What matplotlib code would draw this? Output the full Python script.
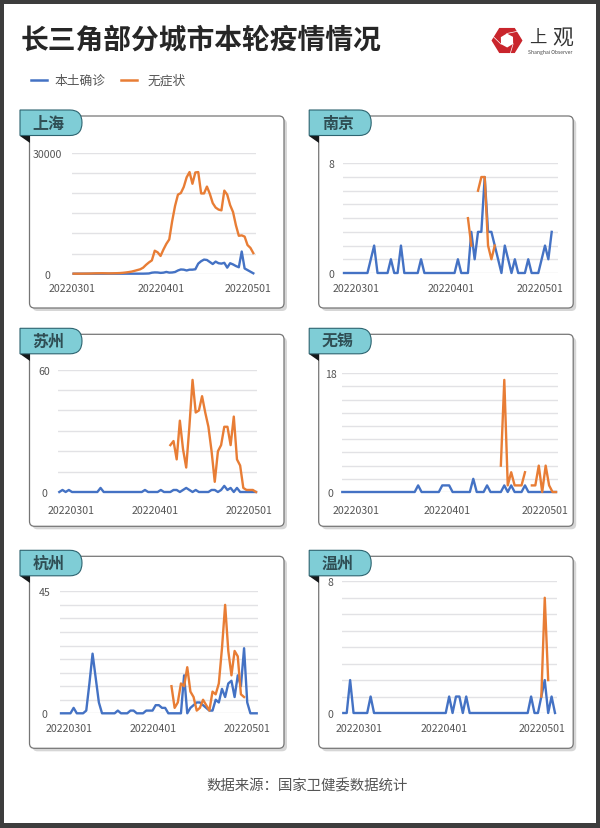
import matplotlib
matplotlib.use("Agg")
import matplotlib.pyplot as plt
import numpy as np
from matplotlib.patches import FancyBboxPatch, PathPatch, Polygon, Rectangle
from matplotlib.path import Path

plt.rcParams["font.family"] = ["Noto Sans CJK SC", "DejaVu Sans"]

BLUE = "#4472c4"
ORANGE = "#e87d35"
GRID = "#e2e2e5"
TEXT = "#555555"
N = None

date_labels = ["20220301", "20220401", "20220501"]

shanghai_local = [
    0, 0, 0, 0, 0, 0, 0, 0, 0, 0,
    0, 0, 0, 0, 0, 0, 0, 0, 5, 5,
    5, 5, 5, 10, 10, 30, 60, 250, 320, 300,
    200, 260, 440, 270, 300, 420, 800, 1050, 1000, 800,
    1000, 1000, 1100, 2500, 3100, 3500, 3400, 2900, 2400, 3000,
    2600, 2500, 2700, 1500, 2600, 2300, 1900, 1600, 5500, 1300,
    900, 500, 100,
]
shanghai_asym = [
    2, 3, 5, 10, 20, 30, 50, 80, 100, 110,
    120, 100, 80, 90, 110, 130, 160, 220, 300, 400,
    520, 700, 900, 1100, 1500, 2200, 2800, 3300, 5700, 5300,
    4400, 6000, 7400, 8500, 13000, 16800, 19600, 20000, 21500, 23900,
    25200, 22300, 25100, 25200, 19900, 19900, 21600, 19800, 17500, 16400,
    15900, 15700, 20600, 19600, 17000, 15300, 12000, 9400, 9500, 9200,
    7100, 6400, 5100,
]
nanjing_local = [
    0, 0, 0, 0, 0, 0, 0, 0, 1, 2,
    0, 0, 0, 0, 1, 0, 0, 2, 0, 0,
    0, 0, 0, 1, 0, 0, 0, 0, 0, 0,
    0, 0, 0, 0, 1, 0, 0, 0, 3, 1,
    3, 3, 7, 3, 3, 2, 1, 0, 2, 1,
    0, 1, 0, 0, 0, 1, 0, 0, 0, 1,
    2, 1, 3,
]
nanjing_asym = [
    N, N, N, N, N, N, N, N, N, N,
    N, N, N, N, N, N, N, N, N, N,
    N, N, N, N, N, N, N, N, N, N,
    N, N, N, N, N, N, N, 4, 2, N,
    6, 7, 7, 2, 1, 2, N, N, N, N,
    N, N, N, N, N, N, N, N, N, N,
    N, N, N,
]
suzhou_local = [
    0, 1, 0, 1, 0, 0, 0, 0, 0, 0,
    0, 0, 0, 2, 0, 0, 0, 0, 0, 0,
    0, 0, 0, 0, 0, 0, 0, 1, 0, 0,
    0, 0, 1, 0, 0, 0, 1, 1, 0, 1,
    2, 1, 0, 1, 0, 0, 0, 0, 1, 1,
    0, 1, 3, 1, 2, 0, 2, 0, 0, 0,
    0, 0, 0,
]
suzhou_asym = [
    N, N, N, N, N, N, N, N, N, N,
    N, N, N, N, N, N, N, N, N, N,
    N, N, N, N, N, N, N, N, N, N,
    N, N, N, N, N, 23, 25, 16, 35, 21,
    12, 32, 55, 39, 40, 47, 39, 32, 20, 5,
    20, 23, 32, 32, 23, 37, 16, 13, 2, 1,
    1, 1, 0,
]
wuxi_local = [
    0, 0, 0, 0, 0, 0, 0, 0, 0, 0,
    0, 0, 0, 0, 0, 0, 0, 0, 0, 0,
    0, 0, 1, 0, 0, 0, 0, 0, 0, 1,
    1, 1, 0, 0, 0, 0, 0, 0, 2, 0,
    0, 0, 1, 0, 0, 0, 0, 1, 0, 1,
    0, 0, 0, 1, 0, 0, 0, 0, 0, 0,
    0, 0, 0,
]
wuxi_asym = [
    N, N, N, N, N, N, N, N, N, N,
    N, N, N, N, N, N, N, N, N, N,
    N, N, N, N, N, N, N, N, N, N,
    N, N, N, N, N, N, N, N, N, N,
    N, N, N, N, N, N, 4, 17, 1, 3,
    1, 1, 1, 3, N, 1, 1, 4, 0, 4,
    1, 0, 0,
]
hangzhou_local = [
    0, 0, 0, 0, 2, 0, 0, 0, 1, 11,
    22, 13, 4, 0, 0, 0, 0, 0, 1, 0,
    0, 0, 1, 1, 0, 0, 0, 1, 1, 1,
    3, 3, 2, 2, 0, 0, 0, 0, 0, 14,
    0, 2, 3, 4, 4, 3, 2, 1, 1, 5,
    4, 9, 6, 11, 12, 6, 14, 10, 24, 4,
    0, 0, 0,
]
hangzhou_asym = [
    N, N, N, N, N, N, N, N, N, N,
    N, N, N, N, N, N, N, N, N, N,
    N, N, N, N, N, N, N, N, N, N,
    N, N, N, N, N, 10, 2, 4, 11, 10,
    17, 8, 6, 1, 2, 5, 3, 1, 8, 7,
    11, 24, 40, 23, 14, 23, 21, 7, 6, N,
    N, N, N,
]
wenzhou_local = [
    0, 0, 2, 0, 0, 0, 0, 0, 1, 0,
    0, 0, 0, 0, 0, 0, 0, 0, 0, 0,
    0, 0, 0, 0, 0, 0, 0, 0, 0, 0,
    0, 1, 0, 1, 1, 0, 1, 0, 0, 0,
    0, 0, 0, 0, 0, 0, 0, 0, 0, 0,
    0, 0, 0, 0, 0, 1, 0, 0, 1, 2,
    0, 1, 0,
]
wenzhou_asym = [
    N, N, N, N, N, N, N, N, N, N,
    N, N, N, N, N, N, N, N, N, N,
    N, N, N, N, N, N, N, N, N, N,
    N, N, N, N, N, N, N, N, N, N,
    N, N, N, N, N, N, N, N, N, N,
    N, N, N, N, N, N, N, N, 1, 7,
    2, N, N,
]


def px_axes(fig, x0, x1, top, bottom):
    return fig.add_axes([x0 / 600, 1 - bottom / 829, (x1 - x0) / 600, (bottom - top) / 829])


def draw_card(bg, left, top, name):
    # card, shadow and the little tag in the corner
    w, h = 254.5, 192
    bg.add_patch(FancyBboxPatch((left + 3, top + 3), w, h, boxstyle="round,pad=0,rounding_size=5",
                                fc="#d6d6d6", ec="none"))
    bg.add_patch(FancyBboxPatch((left, top), w, h, boxstyle="round,pad=0,rounding_size=5",
                                fc="white", ec="#767676", lw=0.9))
    tx, ty = left - 9.5, top - 6
    bg.add_patch(Polygon([(tx, ty + 25.5), (tx + 9.5, ty + 25.5), (tx + 9.5, ty + 33)], fc="#15181a", ec="none"))
    verts = [(tx, ty), (tx + 50, ty), (tx + 62, ty), (tx + 62, ty + 12.7),
             (tx + 62, ty + 25.5), (tx + 50, ty + 25.5), (tx, ty + 25.5), (tx, ty)]
    codes = [Path.MOVETO, Path.LINETO, Path.CURVE3, Path.CURVE3, Path.CURVE3, Path.CURVE3, Path.LINETO, Path.CLOSEPOLY]
    bg.add_patch(PathPatch(Path(verts, codes), fc="#7fcdd6", ec="#2d6470", lw=0.8))
    bg.text(tx + 28.5, ty + 12.8, name, ha="center", va="center", fontsize=11.5, fontweight="bold", color="#2f4e54")


def draw_chart(fig, panel):
    ax = px_axes(fig, panel["grid"][0], panel["grid"][1], panel["top"], panel["base"])
    ax.patch.set_alpha(0)
    p0, p1 = panel["points"]
    scale = (p1 - p0) / 62
    ax.set_xlim((panel["grid"][0] - p0) / scale, (panel["grid"][1] - p0) / scale)
    ax.set_ylim(0, panel["ymax"])
    days = np.arange(63)
    ax.plot(days, np.array(panel["local"], dtype=float), color=BLUE, lw=1.7, clip_on=False, zorder=3)
    ax.plot(days, np.array(panel["asym"], dtype=float), color=ORANGE, lw=1.7, clip_on=False, zorder=4)

    yticks = np.linspace(0, panel["ymax"], panel["steps"] + 1)
    ax.set_yticks(yticks)
    ax.set_yticklabels([str(panel["ymin_label"])] + [""] * (panel["steps"] - 1) + [str(panel["ymax"])])
    ax.grid(axis="y", color=GRID, lw=1.0)
    ax.set_axisbelow(True)
    for s in ax.spines.values():
        s.set_visible(False)
    ax.set_xticks([(x - p0) / scale for x in panel["xlabels"]])
    ax.set_xticklabels(date_labels)
    ax.tick_params(axis="x", length=0, pad=panel["xpad"], labelsize=7.6, labelcolor=TEXT)
    ax.tick_params(axis="y", length=0, pad=(panel["grid"][0] - panel["ycenter"]) * 0.72,
                   labelsize=7.6, labelcolor=TEXT)
    for lab in ax.get_yticklabels():
        lab.set_ha("center")


panels = [
    dict(name="上海", card=(29.5, 117), grid=(72.3, 255.7), points=(72.3, 253.3), top=153.7, base=274.7,
         ymax=30000, ymin_label=0, steps=6, ycenter=47.5, xlabels=(71, 160.5, 247.7), xpad=7,
         local=shanghai_local, asym=shanghai_asym),
    dict(name="南京", card=(318.7, 117), grid=(343.3, 558.3), points=(344, 551.7), top=164.3, base=274,
         ymax=8, ymin_label=0, steps=8, ycenter=331, xlabels=(356, 451, 540), xpad=7,
         local=nanjing_local, asym=nanjing_asym),
    dict(name="苏州", card=(29.5, 335.3), grid=(58.3, 257.3), points=(59.3, 256), top=370.7, base=493,
         ymax=60, ymin_label=0, steps=6, ycenter=44.3, xlabels=(71, 155.3, 249), xpad=9.5,
         local=suzhou_local, asym=suzhou_asym),
    dict(name="无锡", card=(318.7, 335.3), grid=(341.7, 558.3), points=(342.3, 556), top=374.3, base=493,
         ymax=18, ymin_label=0, steps=9, ycenter=330.7, xlabels=(355.7, 447.3, 545), xpad=9.5,
         local=wuxi_local, asym=wuxi_asym),
    dict(name="杭州", card=(29.5, 557.3), grid=(60, 258.3), points=(61, 256.7), top=592.3, base=714.3,
         ymax=45, ymin_label=0, steps=9, ycenter=44.3, xlabels=(69, 153.3, 247), xpad=7,
         local=hangzhou_local, asym=hangzhou_asym),
    dict(name="温州", card=(318.7, 557.3), grid=(341.7, 556.7), points=(343.3, 555), top=582.3, base=714,
         ymax=8, ymin_label=0, steps=8, ycenter=330.7, xlabels=(359.3, 444, 542), xpad=7,
         local=wenzhou_local, asym=wenzhou_asym),
]

fig = plt.figure(figsize=(6, 8.29), dpi=100, facecolor="white")
bg = fig.add_axes([0, 0, 1, 1])
bg.set_xlim(0, 600)
bg.set_ylim(829, 0)
bg.axis("off")

# dark frame around the page
for rect in [(0, 0, 600, 4.5), (0, 824, 600, 5), (0, 0, 4, 829), (596, 0, 4, 829)]:
    bg.add_patch(Rectangle(rect[:2], rect[2], rect[3], fc="#3d3d3d", ec="none"))

bg.text(21, 41, "长三角部分城市本轮疫情情况", fontsize=20, fontweight="bold", color="#262626",
        ha="left", va="center")

# legend
bg.plot([31, 47], [81, 81], color=BLUE, lw=1.8)
bg.text(54, 81, "本土确诊", fontsize=9.2, color=TEXT, ha="left", va="center")
bg.plot([121, 137], [81, 81], color=ORANGE, lw=1.8)
bg.text(148, 81, "无症状", fontsize=9.2, color=TEXT, ha="left", va="center")

# logo
angles = np.deg2rad(np.arange(0, 360, 60))
bg.add_patch(Polygon(np.c_[507 + 15.5 * np.cos(angles), 41.5 + 14.5 * np.sin(angles)], fc="#c9252c", ec="none"))
bg.add_patch(Polygon(np.c_[507 + 7 * np.cos(angles + 0.5), 41.5 + 7 * np.sin(angles + 0.5)], fc="white", ec="none"))
for a in angles[::2] + 0.5:
    bg.plot([507 + 7 * np.cos(a), 507 + 16 * np.cos(a + 0.9)], [41.5 + 7 * np.sin(a), 41.5 + 15 * np.sin(a + 0.9)],
            color="white", lw=0.5)
bg.text(529, 38, "上", fontsize=12.5, color="#333333", ha="left", va="center")
bg.text(552, 37.5, "观", fontsize=15, color="#333333", ha="left", va="center")
bg.text(550, 52.5, "Shanghai Observer", fontsize=3.6, color="#444444", ha="center", va="center")

for panel in panels:
    draw_card(bg, panel["card"][0], panel["card"][1], panel["name"])
for panel in panels:
    draw_chart(fig, panel)

bg.text(307.5, 786, "数据来源：国家卫健委数据统计", fontsize=10.4, color=TEXT, ha="center", va="center")

fig.savefig("out.png", dpi=100)
